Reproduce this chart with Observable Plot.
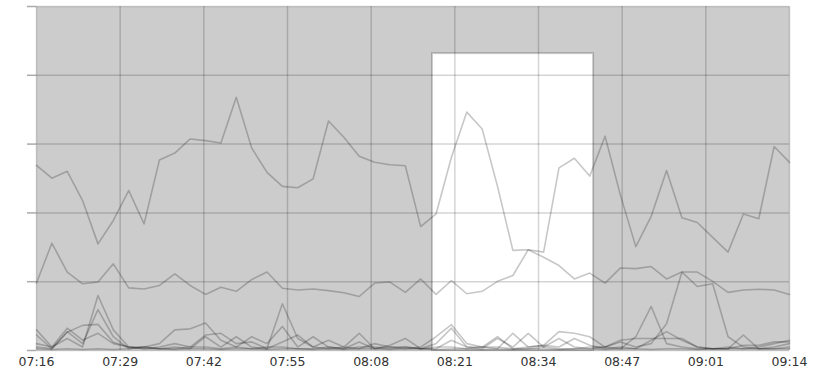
<!DOCTYPE html>
<html>
<head>
<meta charset="utf-8">
<script src="https://cdn.jsdelivr.net/npm/d3@7"></script>
<script src="https://cdn.jsdelivr.net/npm/@observablehq/plot@0.6"></script>
<style>
  html, body { margin: 0; padding: 0; background: #fff; }
  #chart { width: 818px; height: 370px; }
</style>
</head>
<body>
<div id="chart"></div>
<script>
// Tick labels along the time axis (evenly spaced)
const timeLabels = ["07:16","07:29","07:42","07:55","08:08","08:21","08:34","08:47","09:01","09:14"];

// Series values (0–100 scale), 50 samples each
const seriesA = [53.8,50.1,52.1,43.6,31.0,37.8,46.5,36.8,55.4,57.4,61.5,61.0,60.3,73.6,58.9,51.8,47.7,47.3,49.9,66.7,62.0,56.5,54.7,54.0,53.7,36.0,39.7,56.2,69.3,64.4,47.7,29.1,29.3,28.6,53.1,55.9,50.7,62.3,45.1,30.2,39.0,52.3,38.6,37.2,32.9,28.6,39.7,38.3,59.3,54.7];
const seriesB = [19.6,31.2,22.8,19.4,19.9,25.2,18.2,17.9,18.9,22.3,18.9,16.3,18.4,17.2,20.6,22.8,18.1,17.6,17.9,17.4,16.8,15.7,19.6,19.9,16.9,20.8,16.3,20.3,16.5,17.2,20.1,21.8,29.3,27.1,24.7,20.8,22.5,19.6,24.0,23.8,24.4,20.8,22.8,22.8,20.1,16.9,17.6,17.8,17.6,16.3];
const seriesC = [6.0,1.0,3.5,1.0,16.0,6.0,1.0,0.5,0.5,1.0,0.5,4.0,1.0,4.0,1.0,0.5,13.6,3.5,1.0,3.0,1.0,0.5,2.0,1.0,1.0,0.5,0.5,3.0,1.0,0.5,3.5,1.0,5.0,1.0,3.5,1.0,0.5,1.0,2.5,1.0,2.0,7.8,22.8,18.6,19.4,4.0,1.0,0.5,1.0,2.0];
const seriesD = [4.5,0.5,5.5,2.0,11.9,4.0,0.5,1.0,2.0,6.0,6.3,8.0,3.0,1.0,4.0,2.0,7.0,1.0,4.0,1.0,0.5,2.5,0.5,1.5,3.5,0.5,2.0,6.5,1.0,1.0,0.5,5.0,1.0,1.5,5.5,5.0,4.0,1.0,0.5,4.0,12.8,2.0,1.0,0.5,0.5,0.5,4.5,0.5,0.5,1.0];
const seriesE = [2.0,1.0,6.5,3.0,5.0,2.0,1.0,0.5,1.0,2.0,1.0,4.5,5.0,2.0,2.5,0.5,2.5,4.5,1.0,0.5,1.0,5.0,0.5,1.0,0.5,1.0,4.0,7.5,2.0,1.0,4.0,0.5,1.0,1.5,1.0,3.5,1.5,0.5,1.0,0.5,3.0,5.5,3.0,1.0,0.5,1.0,0.5,1.0,2.0,3.0];
const seriesF = [1.0,0.5,5.3,7.3,7.6,2.4,1.0,1.0,0.5,0.5,1.0,1.0,0.5,1.0,0.5,1.0,1.0,0.5,0.5,1.0,0.5,1.0,1.0,0.5,1.0,0.5,1.0,1.0,0.5,1.0,1.0,0.5,0.5,1.0,0.5,0.5,1.0,1.0,3.0,3.5,3.5,3.5,3.5,1.0,0.5,0.5,0.5,0.5,0.5,0.5];
const seriesG = [0.5,0.3,0.5,0.3,0.5,0.3,0.5,1.0,0.5,0.3,0.5,0.5,0.3,0.5,0.5,0.3,0.5,0.5,0.3,0.5,0.3,0.5,0.5,0.3,0.5,0.5,0.3,0.5,0.5,0.3,0.5,0.3,0.5,0.5,0.3,0.5,0.5,0.3,0.5,0.5,0.3,0.5,0.5,0.3,0.5,0.5,1.5,1.5,2.5,2.5];

// Highlighted window (in sample-index units) and its height
const highlightStart = [25.77];
const highlightEnd = [36.25];
const highlightTop = [86.3];

const allSeries = {A: seriesA, B: seriesB, C: seriesC, D: seriesD, E: seriesE, F: seriesF, G: seriesG};
const rows = [];
for (const [name, vals] of Object.entries(allSeries)) {
  vals.forEach((v, i) => rows.push({series: name, i, v}));
}
const n = seriesA.length;
const xTicks = timeLabels.map((_, k) => (n - 1) * k / (timeLabels.length - 1));
const yTicks = [0, 20, 40, 60, 80, 100];
const hl = highlightStart.map((s, k) => ({x1: s, x2: highlightEnd[k], y2: highlightTop[k]}));

const chart = Plot.plot({
  width: 818,
  height: 370,
  marginLeft: 36,
  marginRight: 29,
  marginTop: 6,
  marginBottom: 20,
  x: {domain: [0, n - 1]},
  y: {domain: [0, 100]},
  style: {fontFamily: "DejaVu Sans", fontSize: "12.5px", color: "#333", background: "white"},
  marks: [
    Plot.frame({fill: "#cccccc", stroke: "none"}),
    Plot.rect(hl, {x1: "x1", x2: "x2", y1: 0, y2: "y2", fill: "white"}),
    Plot.ruleX(xTicks, {stroke: "black", strokeOpacity: 0.17, strokeWidth: 1.5}),
    Plot.ruleY(yTicks, {stroke: "black", strokeOpacity: 0.17, strokeWidth: 1.5}),
    Plot.axisY({ticks: yTicks, tickFormat: () => "", tickSize: 9, stroke: "#aaaaaa", strokeWidth: 1.5, strokeOpacity: 1}),
    Plot.axisX({ticks: xTicks, tickFormat: (d, k) => timeLabels[k], tickSize: 0, tickPadding: 7, fill: "#333"}),
    Plot.line(rows, {x: "i", y: "v", z: "series", stroke: "black", strokeOpacity: 0.22, strokeWidth: 1.6}),
    Plot.rect(hl, {x1: "x1", x2: "x2", y1: 0, y2: "y2", fill: "none", stroke: "black", strokeOpacity: 0.2, strokeWidth: 2})
  ]
});
document.getElementById("chart").appendChild(chart);
</script>
</body>
</html>
